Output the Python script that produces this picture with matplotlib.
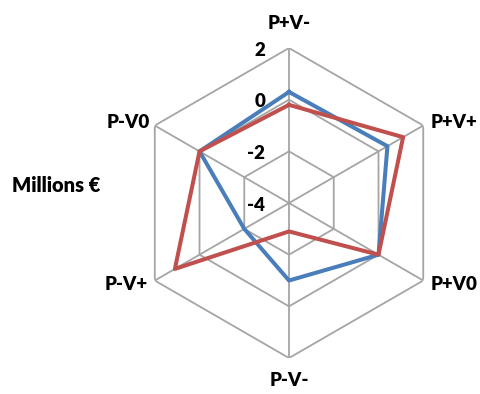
import numpy as np
import matplotlib
matplotlib.use("Agg")
import matplotlib.pyplot as plt

# scenario labels, clockwise from the top
categories = ["P+V-", "P+V+", "P+V0", "P-V-", "P-V+", "P-V0"]
# values in millions of euros
blue_values = [0.3, 0.4, 0.0, -1.0, -2.0, 0.0]
red_values = [-0.2, 1.1, 0.0, -2.9, 1.1, 0.0]
rings = [-4, -2, 0, 2]
ring_labels = ["-4", "-2", "0", "2"]

plt.rcParams['font.family'] = ['Lato', 'DejaVu Sans']

fig = plt.figure(figsize=(4.81, 3.94), dpi=100)
ax = fig.add_axes([0.2786, 0.0888 + 0.0025, 0.6445, 0.7868], projection='polar')
ax.set_theta_zero_location('N')
ax.set_theta_direction(-1)
ax.set_ylim(rings[0], rings[-1])
ax.grid(False)
ax.spines['polar'].set_visible(False)
ax.set_xticks([])
ax.set_yticks([])
ax.patch.set_alpha(0)

n = len(categories)
angles = np.linspace(0, 2 * np.pi, n, endpoint=False)
closed = np.append(angles, angles[0])

grid_color = '#a5a5a5'
# hexagonal rings (the innermost value sits at the centre)
for r in rings[1:]:
    ax.plot(closed, [r] * (n + 1), color=grid_color, lw=1.3, zorder=1)
# spokes
for a in angles:
    ax.plot([a, a], [rings[0], rings[-1]], color=grid_color, lw=1.3, zorder=1)

ax.plot(closed, blue_values + blue_values[:1], color='#4a7ebb', lw=2.9, zorder=3)
ax.plot(closed, red_values + red_values[:1], color='#c0504d', lw=2.9, zorder=4)

# value labels along the top spoke
for r, lab in zip(rings, ring_labels):
    ax.annotate(lab, xy=(0, r), xytext=(-24, -2), textcoords='offset pixels',
                ha='right', va='center', fontsize=13.5, fontweight='heavy',
                annotation_clip=False)

# category labels at the outer vertices
offsets = [(0, 25, 'center'), (7, 3, 'left'), (7, -4, 'left'),
           (0, -22, 'center'), (-7, -4, 'right'), (-5, 3, 'right')]
for a, lab, (dx, dy, ha) in zip(angles, categories, offsets):
    ax.annotate(lab, xy=(a, rings[-1]), xytext=(dx, dy), textcoords='offset pixels',
                ha=ha, va='center', fontsize=13.5, fontweight='heavy',
                annotation_clip=False)

fig.text(12 / 481, 1 - 186 / 394, "Millions €", ha='left', va='center',
         fontsize=14.5, fontweight='heavy')

fig.savefig("out.png", dpi=100)
